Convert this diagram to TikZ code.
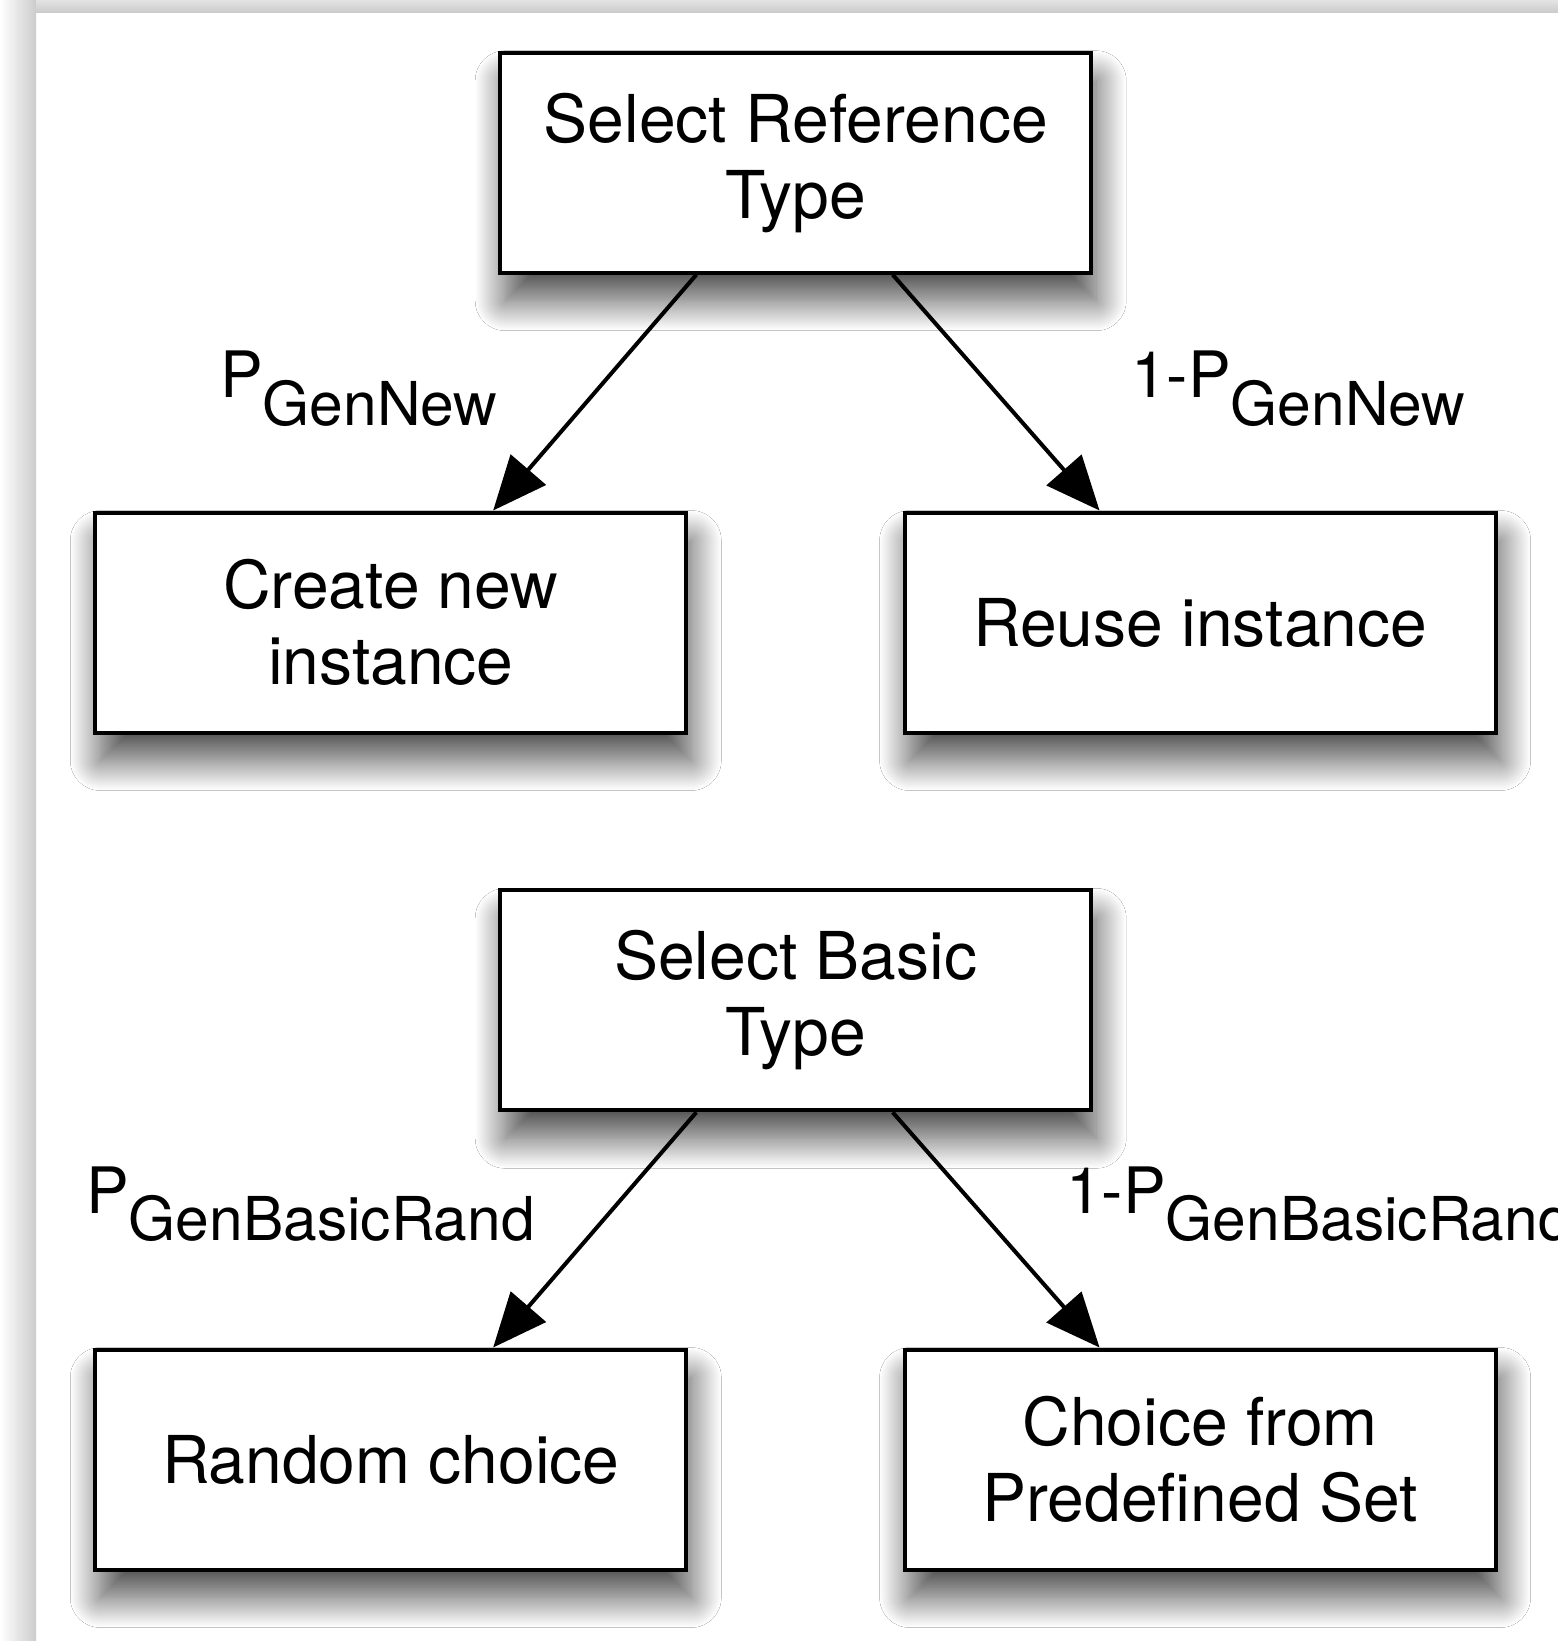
\documentclass[tikz,border=0pt]{standalone}
\usepackage{fontspec}
\setmainfont{TeX Gyre Heros}
\usetikzlibrary{arrows.meta,shadows.blur,calc}
\begin{document}
\begin{tikzpicture}[x=1pt,y=-1pt,
  box/.style={draw=black, line width=4pt, fill=white, minimum width=591pt, minimum height=220pt,
    align=center, inner sep=0pt, font=\fontsize{66}{76}\selectfont,
    blur shadow={shadow xshift=5pt, shadow yshift=-28pt, shadow blur radius=30pt, shadow blur steps=40, shadow opacity=70}},
  arr/.style={line width=4pt, -{Triangle[length=54pt,width=46pt]}},
  lbl/.style={anchor=base west, inner sep=0pt, font=\fontsize{64}{64}\selectfont}]
\useasboundingbox (0,0) rectangle (1558,1641);
\fill[white] (0,0) rectangle (1558,1641);
\shade[left color=white, right color=gray!40] (0,0) rectangle (36,1641);
\shade[top color=gray!22, bottom color=gray!40] (36,0) rectangle (1558,12);

\node[box] (sel) at (795.7,162.7) {Select Reference\\Type};
\node[box] (cni) at (390.8,622.5) {Create new\\instance};
\node[box] (reu) at (1200.1,622.5) {Reuse instance};
\node[box] (bas) at (795.7,1000.3) {Select Basic\\Type};
\node[box] (ran) at (390.8,1459.5) {Random choice};
\node[box] (pre) at (1200.1,1459.5) {Choice from\\Predefined Set};

\draw[arr] ($(sel.south west)!0.333!(sel.south east)$) -- ($(cni.north west)!0.672!(cni.north east)$);
\draw[arr] ($(sel.south west)!0.663!(sel.south east)$) -- ($(reu.north west)!0.331!(reu.north east)$);
\draw[arr] ($(bas.south west)!0.333!(bas.south east)$) -- ($(ran.north west)!0.672!(ran.north east)$);
\draw[arr] ($(bas.south west)!0.663!(bas.south east)$) -- ($(pre.north west)!0.331!(pre.north east)$);

\node[lbl] (l1) at (220,397) {P\lower28pt\hbox{\fontsize{60.5}{60.5}\selectfont GenNew}};
\node[lbl] (l2) at (1131,397) {1-P\lower28pt\hbox{\fontsize{60.5}{60.5}\selectfont GenNew}};
\node[lbl] (l3) at (86,1213) {P\lower27pt\hbox{\fontsize{60.5}{60.5}\selectfont GenBasicRand}};
\node[lbl] (l4) at (1066,1213) {1-P\lower27pt\hbox{\fontsize{60.5}{60.5}\selectfont GenBasicRand}};
\end{tikzpicture}
\end{document}
